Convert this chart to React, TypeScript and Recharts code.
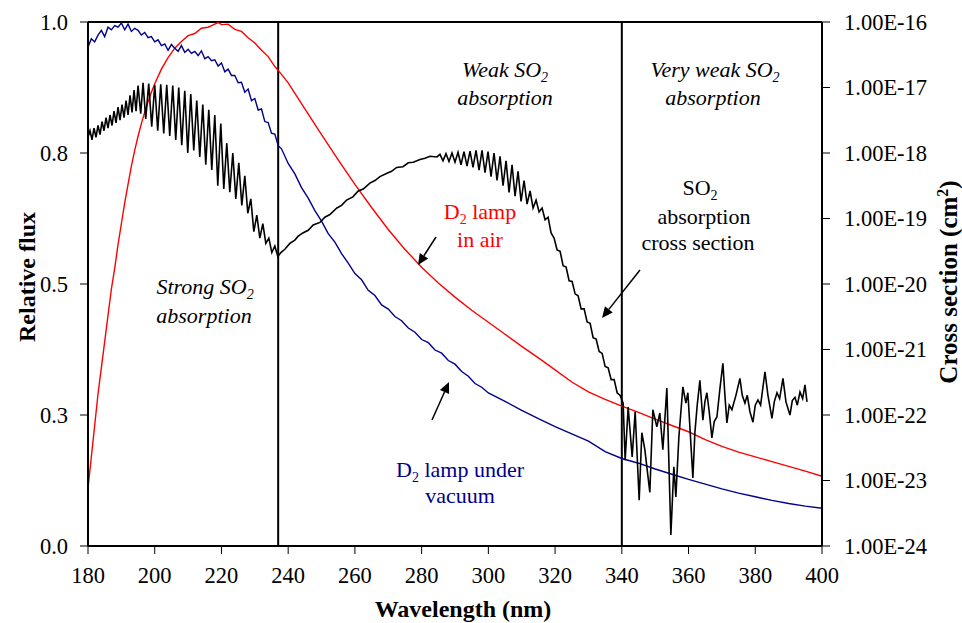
import React from "react";
import { Line, LineChart, ReferenceLine, XAxis, YAxis } from "recharts";

// wavelength (nm) vs relative flux
const wavelengthTicks = [180, 200, 220, 240, 260, 280, 300, 320, 340, 360, 380, 400];
const fluxTicks = [0, 0.25, 0.5, 0.75, 1];
const logCsTicks = [-24, -23, -22, -21, -20, -19, -18, -17, -16];
const bandEdges = [237, 340];

const vacuumLamp: [number, number][] = [
  [180, 0.952], [181, 0.968], [182, 0.962], [183, 0.975], [184, 0.984], [185, 0.972],
  [186, 0.99], [187, 0.985], [188, 0.993], [189, 0.99], [190, 0.998], [191, 0.985],
  [192, 0.996], [193, 0.982], [194, 0.988], [195, 0.984], [196, 0.975], [197, 0.98],
  [198, 0.97], [199, 0.972], [200, 0.962], [201, 0.966], [202, 0.955], [203, 0.958],
  [204, 0.946], [205, 0.957], [206, 0.95], [207, 0.944], [208, 0.955], [209, 0.942],
  [210, 0.948], [211, 0.94], [212, 0.944], [213, 0.936], [214, 0.945], [215, 0.93],
  [216, 0.934], [217, 0.926], [218, 0.928], [219, 0.916], [220, 0.922], [221, 0.905],
  [222, 0.91], [223, 0.898], [224, 0.898], [225, 0.884], [226, 0.885], [227, 0.866],
  [228, 0.872], [229, 0.85], [230, 0.854], [231, 0.832], [232, 0.834], [233, 0.81],
  [234, 0.808], [235, 0.788], [236, 0.786], [237, 0.764], [238, 0.758], [240, 0.73],
  [242, 0.71], [244, 0.684], [246, 0.664], [248, 0.64], [250, 0.62], [252, 0.596],
  [254, 0.58], [256, 0.558], [258, 0.54], [260, 0.52], [262, 0.508], [264, 0.488],
  [266, 0.478], [268, 0.46], [270, 0.452], [272, 0.438], [274, 0.43], [276, 0.416],
  [278, 0.408], [280, 0.394], [282, 0.388], [284, 0.374], [286, 0.368], [288, 0.354],
  [290, 0.347], [292, 0.333], [294, 0.324], [296, 0.31], [298, 0.303], [300, 0.292],
  [305, 0.276], [310, 0.259], [315, 0.243], [320, 0.228], [325, 0.214], [330, 0.2],
  [335, 0.18], [340, 0.167], [345, 0.158], [350, 0.147], [355, 0.137], [360, 0.127],
  [365, 0.118], [370, 0.109], [375, 0.101], [380, 0.094], [385, 0.087], [390, 0.081],
  [395, 0.076], [400, 0.072],
];

const airLamp: [number, number][] = [
  [180, 0.11], [181, 0.17], [182, 0.23], [183, 0.29], [184, 0.34], [185, 0.39],
  [186, 0.44], [187, 0.49], [188, 0.53], [189, 0.575], [190, 0.615], [191, 0.655],
  [192, 0.69], [193, 0.725], [194, 0.755], [195, 0.782], [196, 0.806], [197, 0.828],
  [198, 0.848], [199, 0.866], [200, 0.882], [202, 0.91], [204, 0.932], [206, 0.95],
  [208, 0.963], [210, 0.974], [212, 0.978], [214, 0.988], [216, 0.99], [218, 0.996],
  [219, 0.999], [220, 0.995], [222, 0.996], [224, 0.986], [226, 0.982], [228, 0.97],
  [230, 0.96], [232, 0.946], [234, 0.934], [236, 0.915], [238, 0.9], [240, 0.884],
  [245, 0.834], [250, 0.785], [255, 0.737], [260, 0.69], [265, 0.646], [270, 0.604],
  [275, 0.566], [280, 0.532], [285, 0.502], [290, 0.475], [295, 0.45], [300, 0.427],
  [305, 0.404], [310, 0.381], [315, 0.359], [320, 0.336], [325, 0.313], [330, 0.294],
  [335, 0.28], [340, 0.267], [345, 0.255], [350, 0.242], [355, 0.23], [360, 0.218],
  [365, 0.203], [370, 0.19], [375, 0.179], [380, 0.17], [385, 0.161], [390, 0.152],
  [395, 0.143], [400, 0.133],
];

// SO2 absorption cross section, log10(cm^2)
const so2LogCs: [number, number][] = [
  [180.0, -17.76], [180.6, -17.66], [181.2, -17.8], [181.8, -17.62], [182.4, -17.76],
  [183.0, -17.58], [183.6, -17.72], [184.2, -17.52], [184.8, -17.66], [185.4, -17.46],
  [186.0, -17.62], [186.6, -17.42], [187.2, -17.58], [187.8, -17.36], [188.4, -17.54],
  [189.0, -17.3], [189.6, -17.5], [190.2, -17.26], [190.8, -17.46], [191.4, -17.2],
  [192.0, -17.42], [192.6, -17.12], [193.2, -17.38], [193.8, -17.04], [194.4, -17.36],
  [195.0, -16.97], [195.8, -17.4], [196.5, -16.93], [197.3, -17.48], [198.2, -16.94],
  [199.1, -17.6], [200.0, -16.96], [200.9, -17.66], [201.8, -16.95], [202.7, -17.7],
  [203.6, -16.96], [204.5, -17.74], [205.4, -16.97], [206.3, -17.8], [207.2, -17.0],
  [208.1, -17.88], [209.0, -17.05], [209.9, -18.0], [210.8, -17.1], [211.7, -17.96],
  [212.6, -17.2], [213.5, -18.06], [214.4, -17.26], [215.3, -18.18], [216.2, -17.34],
  [217.1, -18.26], [218.0, -17.42], [218.9, -18.5], [219.8, -17.55], [220.7, -18.55],
  [221.6, -17.85], [222.5, -18.6], [223.4, -18.0], [224.3, -18.7], [225.2, -18.15],
  [226.1, -18.8], [227.0, -18.35], [227.9, -18.92], [228.8, -18.7], [229.7, -19.2],
  [230.6, -18.95], [231.5, -19.3], [232.4, -19.08], [233.3, -19.38], [234.2, -19.3],
  [235.1, -19.52], [236.0, -19.42], [236.9, -19.58], [237.8, -19.52], [239.0, -19.47],
  [240.5, -19.38], [242.0, -19.33], [243.0, -19.27], [244.4, -19.22], [246.0, -19.18],
  [247.5, -19.1], [249.5, -19.06], [251.0, -18.98], [252.5, -18.94], [254.6, -18.84],
  [256.0, -18.8], [257.5, -18.72], [259.4, -18.67], [261.0, -18.58], [262.5, -18.55],
  [264.5, -18.46], [266.0, -18.42], [267.5, -18.36], [269.6, -18.31], [271.0, -18.28],
  [272.5, -18.22], [274.4, -18.21], [276.0, -18.15], [277.5, -18.14], [279.5, -18.1],
  [281.0, -18.08], [282.5, -18.05], [284.6, -18.06], [285.5, -18.02], [286.4, -18.12],
  [287.3, -18.01], [288.2, -18.13], [289.1, -18.0], [290.0, -18.14], [290.9, -17.99],
  [291.8, -18.18], [292.7, -17.98], [293.6, -18.2], [294.5, -17.97], [295.4, -18.22],
  [296.3, -17.96], [297.2, -18.26], [298.1, -17.96], [299.0, -18.3], [299.9, -17.98],
  [300.8, -18.36], [301.7, -18.0], [302.6, -18.42], [303.5, -18.05], [304.4, -18.5],
  [305.3, -18.12], [306.2, -18.6], [307.1, -18.18], [308.0, -18.66], [308.9, -18.28],
  [309.8, -18.74], [310.7, -18.42], [311.6, -18.78], [312.5, -18.58], [313.4, -18.84],
  [314.3, -18.72], [315.2, -18.9], [316.1, -18.84], [317.0, -19.02], [317.9, -18.98],
  [318.8, -19.22], [319.7, -19.3], [320.6, -19.48], [321.5, -19.5], [322.4, -19.72],
  [323.3, -19.74], [324.2, -19.95], [325.1, -19.96], [326.0, -20.15], [326.9, -20.18],
  [327.8, -20.38], [328.7, -20.38], [329.6, -20.58], [330.5, -20.6], [331.4, -20.82],
  [332.3, -20.84], [333.2, -21.03], [334.1, -21.06], [335.0, -21.26], [335.9, -21.28],
  [336.8, -21.46], [337.7, -21.46], [338.6, -21.66], [339.5, -21.7], [340.4, -21.82],
  [341.0, -22.69], [341.9, -21.88], [343.1, -22.64], [344.0, -21.95], [345.2, -23.3],
  [346.0, -22.27], [346.9, -22.53], [348.4, -23.18], [349.3, -21.92], [350.5, -22.18],
  [351.4, -21.97], [352.3, -22.53], [353.5, -21.59], [354.7, -23.83], [355.6, -22.79],
  [356.2, -23.25], [357.1, -22.34], [358.3, -21.57], [359.2, -21.82], [359.8, -21.66],
  [361.3, -22.96], [361.9, -22.27], [362.6, -21.85], [363.4, -21.47], [364.3, -22.08],
  [364.9, -21.8], [365.5, -21.66], [366.2, -21.95], [367.0, -22.35], [367.7, -22.1],
  [368.5, -22.03], [369.4, -21.6], [370.3, -21.21], [370.9, -21.7], [371.5, -22.12],
  [372.2, -21.85], [373.0, -21.92], [374.2, -21.7], [375.4, -21.44], [376.1, -21.7],
  [376.9, -21.82], [377.6, -21.7], [378.4, -21.95], [379.3, -22.11], [380.0, -21.85],
  [380.8, -21.77], [381.6, -21.85], [382.9, -21.34], [383.8, -21.7], [385.0, -22.05],
  [385.7, -21.8], [386.5, -21.66], [387.3, -21.75], [388.3, -21.44], [389.2, -21.8],
  [390.4, -22.0], [391.1, -21.78], [391.9, -21.73], [392.6, -21.85], [393.4, -21.65],
  [394.2, -21.75], [394.9, -21.54], [395.5, -21.8],
];

const serif = "Liberation Serif, Tinos, Times New Roman, DejaVu Serif, serif";
const blue = "#00008B";
const red = "#FF0000";

const rows = (pts: [number, number][], key: string) =>
  pts.map(([nm, v]) => ({ nm, [key]: v }));

const tickStyle = { fill: "#000", fontSize: 22.5, fontFamily: serif };
const axisStroke = { stroke: "#000", strokeWidth: 2 };

function Arrow({ x1, y1, x2, y2 }: { x1: number; y1: number; x2: number; y2: number }) {
  const a = Math.atan2(y2 - y1, x2 - x1);
  const L = 11;
  const W = 5;
  const bx = x2 - L * Math.cos(a);
  const by = y2 - L * Math.sin(a);
  const px = -Math.sin(a) * W;
  const py = Math.cos(a) * W;
  return (
    <g>
      <line x1={x1} y1={y1} x2={bx} y2={by} stroke="#000" strokeWidth={1.5} />
      <polygon points={`${x2},${y2} ${bx + px},${by + py} ${bx - px},${by - py}`} fill="#000" />
    </g>
  );
}

function Sub({ children }: { children: React.ReactNode }) {
  return (
    <tspan dy={5} fontSize={14}>
      {children}
    </tspan>
  );
}

export default function App() {
  return (
    <div
      style={{
        position: "absolute",
        left: 0,
        top: 0,
        width: 962,
        height: 623,
        background: "#fff",
        fontFamily: serif,
      }}
    >
      <LineChart width={962} height={623} margin={{ top: 22, right: 0, bottom: 0, left: 0 }}>
        <XAxis
          type="number"
          dataKey="nm"
          domain={[180, 400]}
          ticks={wavelengthTicks}
          allowDataOverflow
          height={77}
          tick={tickStyle}
          tickSize={8}
          tickMargin={13}
          axisLine={axisStroke}
          tickLine={{ stroke: "#000", strokeWidth: 1 }}
        />
        <YAxis
          yAxisId="flux"
          domain={[0, 1]}
          ticks={fluxTicks}
          allowDataOverflow
          width={88}
          tick={tickStyle}
          tickSize={8}
          tickMargin={12}
          tickFormatter={(v: number) => v.toFixed(1)}
          axisLine={axisStroke}
          tickLine={{ stroke: "#000", strokeWidth: 1 }}
        />
        <YAxis
          yAxisId="cs"
          orientation="right"
          domain={[-24, -16]}
          ticks={logCsTicks}
          allowDataOverflow
          width={140}
          tick={tickStyle}
          tickSize={8}
          tickMargin={14}
          tickFormatter={(v: number) => `1.00E${v}`}
          axisLine={axisStroke}
          tickLine={{ stroke: "#000", strokeWidth: 1 }}
        />
        <ReferenceLine yAxisId="flux" y={1} stroke="#000" strokeWidth={2} />
        {bandEdges.map((x) => (
          <ReferenceLine key={x} yAxisId="flux" x={x} stroke="#000" strokeWidth={2} />
        ))}
        <Line
          yAxisId="flux"
          data={rows(airLamp, "air")}
          dataKey="air"
          stroke={red}
          strokeWidth={1.4}
          dot={false}
          activeDot={false}
          isAnimationActive={false}
        />
        <Line
          yAxisId="flux"
          data={rows(vacuumLamp, "vacuum")}
          dataKey="vacuum"
          stroke={blue}
          strokeWidth={1.4}
          dot={false}
          activeDot={false}
          isAnimationActive={false}
        />
        <Line
          yAxisId="cs"
          data={rows(so2LogCs, "cs")}
          dataKey="cs"
          stroke="#000"
          strokeWidth={1.6}
          dot={false}
          activeDot={false}
          isAnimationActive={false}
        />
      </LineChart>

      <svg
        width={962}
        height={623}
        style={{ position: "absolute", left: 0, top: 0, pointerEvents: "none", fontFamily: serif }}
        fontSize={22}
      >
        <text transform="translate(35,277) rotate(-90)" textAnchor="middle" fontWeight="bold" fontSize={24}>
          Relative flux
        </text>
        <text transform="translate(957,282) rotate(-90)" textAnchor="middle" fontWeight="bold" fontSize={25}>
          Cross section (cm<tspan dy={-9} fontSize={16}>2</tspan>
          <tspan dy={9}>)</tspan>
        </text>
        <text x={463} y={617} textAnchor="middle" fontWeight="bold" fontSize={24}>
          Wavelength (nm)
        </text>

        <g fontStyle="italic">
          <text x={505} y={77} textAnchor="middle">
            Weak SO<Sub>2</Sub>
          </text>
          <text x={505} y={105} textAnchor="middle">absorption</text>
          <text x={715} y={77} textAnchor="middle">
            Very weak SO<Sub>2</Sub>
          </text>
          <text x={713} y={105} textAnchor="middle">absorption</text>
          <text x={205} y={294} textAnchor="middle">
            Strong SO<Sub>2</Sub>
          </text>
          <text x={204} y={323} textAnchor="middle">absorption</text>
        </g>

        <text x={700} y={195} textAnchor="middle">
          SO<Sub>2</Sub>
        </text>
        <text x={704} y={224} textAnchor="middle">absorption</text>
        <text x={698} y={250} textAnchor="middle">cross  section</text>

        <text x={480} y={219} textAnchor="middle" fill={red}>
          D<Sub>2</Sub>
          <tspan dy={-5}> lamp</tspan>
        </text>
        <text x={480} y={247} textAnchor="middle" fill={red}>in air</text>

        <text x={460} y={477} textAnchor="middle" fill={blue}>
          D<Sub>2</Sub>
          <tspan dy={-5}> lamp under</tspan>
        </text>
        <text x={460} y={503} textAnchor="middle" fill={blue}>vacuum</text>

        <Arrow x1={436} y1={237} x2={418} y2={265} />
        <Arrow x1={432} y1={420} x2={449} y2={382} />
        <Arrow x1={640} y1={270} x2={602} y2={318} />
      </svg>
    </div>
  );
}
